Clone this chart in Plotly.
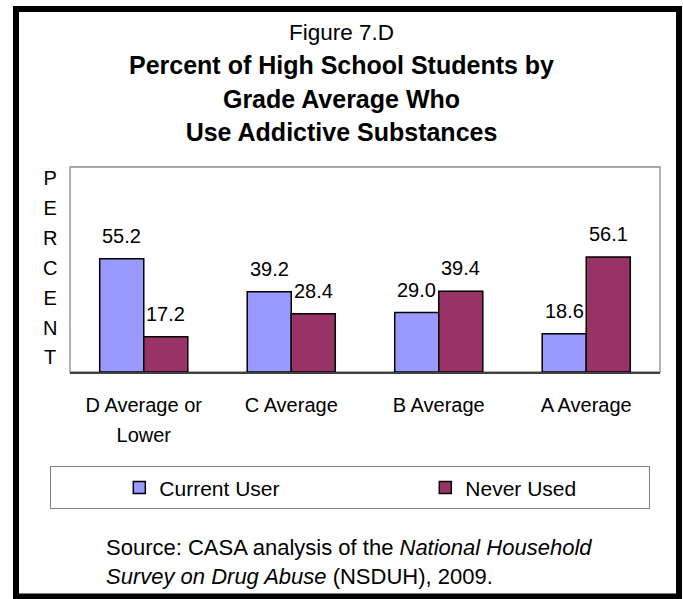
import plotly.graph_objects as go

# ---- data ----
categories = ["D Average or Lower", "C Average", "B Average", "A Average"]
tick_labels = ["D Average or<br>Lower", "C Average", "B Average", "A Average"]
current_user = [55.2, 39.2, 29.0, 18.6]
never_used = [17.2, 28.4, 39.4, 56.1]
series_names = ["Current User", "Never Used"]
boundary_ticks = [-0.5, 0.5, 1.5, 2.5, 3.5]

# ---- layout geometry (pixels) ----
W, H = 683, 599
L, R, T, B = 70, 660, 167, 372
PW, PH = R - L, B - T


def px(x):
    return (x - L) / PW


def py(y):
    return (B - y) / PH


FONT = "Liberation Sans, Arial, sans-serif"
BLUE = "#9999FF"
MAROON = "#993366"

fig = go.Figure()
fig.add_trace(go.Bar(
    x=categories, y=current_user, name=series_names[0],
    marker=dict(color=BLUE, line=dict(color="black", width=1.5)),
    legendwidth=193,
))
fig.add_trace(go.Bar(
    x=categories, y=never_used, name=series_names[1],
    marker=dict(color=MAROON, line=dict(color="black", width=1.5)),
    legendwidth=178,
))

annotations = []
for vals, shift in ((current_user, -22), (never_used, 22)):
    for c, v in zip(categories, vals):
        annotations.append(dict(
            x=c, y=v, xref="x", yref="y", xshift=shift, yshift=10,
            yanchor="bottom", xanchor="center", showarrow=False,
            text=f"{v:.1f}", font=dict(family=FONT, size=20, color="black"),
        ))

# stacked PERCENT label
annotations.append(dict(
    x=px(50), y=py(267.5), xref="paper", yref="paper",
    xanchor="center", yanchor="middle", showarrow=False,
    text="<br>".join(f"<span style='font-size:20px'>{ch}</span>" for ch in "PERCENT"),
    font=dict(family=FONT, size=23, color="black"),
))

# source note
annotations.append(dict(
    x=px(104), y=py(533), xref="paper", yref="paper",
    xanchor="left", yanchor="top", align="left", showarrow=False,
    text=("<span style='font-size:22px'>Source: CASA analysis of the <i>National Household</i></span><br>"
          "<span style='font-size:22px'><i>Survey on Drug Abuse</i> (NSDUH), 2009.</span>"),
    font=dict(family=FONT, size=22.5, color="black"),
))

shapes = [
    # plot frame
    dict(type="rect", xref="paper", yref="paper", x0=0, x1=1, y0=0, y1=1,
         line=dict(color="#8c8c8c", width=1.3), layer="below"),
    # outer border
    dict(type="rect", xref="paper", yref="paper",
         x0=px(16), x1=px(679), y0=py(596.5), y1=py(9),
         line=dict(color="black", width=6)),
]

title_text = ("<span style='font-size:22.5px'>Figure 7.D</span><br>"
              "<b><span style='font-size:25px'>Percent of High School Students by</span><br>"
              "<span style='font-size:25px'>Grade Average Who</span><br>"
              "<span style='font-size:25px'>Use Addictive Substances</span></b>")

fig.update_layout(
    width=W, height=H,
    margin=dict(l=L, r=W - R, t=T, b=H - B, pad=0),
    paper_bgcolor="white", plot_bgcolor="white",
    font=dict(family=FONT, color="black"),
    title=dict(text=title_text, x=0.5, xanchor="center", xref="container",
               y=1 - 40 / H, yanchor="top", yref="container",
               font=dict(family=FONT, size=26, color="black")),
    barmode="group", bargap=0.403, bargroupgap=0,
    xaxis=dict(
        type="category", tickvals=categories,
        ticktext=[f"<span style='font-size:20px'>{t}</span>" for t in tick_labels],
        tickfont=dict(family=FONT, size=23, color="black"),
        ticks="", showline=True, linecolor="#404040", linewidth=2,
        showgrid=False, zeroline=False, ticklabelstandoff=10,
    ),
    xaxis2=dict(
        overlaying="x", anchor="y", side="bottom", range=[-0.5, 3.5],
        tickvals=boundary_ticks, ticks="outside", ticklen=7, tickwidth=1.5,
        tickcolor="#404040", showticklabels=False, showgrid=False,
        zeroline=False, showline=False,
    ),
    yaxis=dict(range=[0, 100], visible=False, showgrid=False, zeroline=False),
    showlegend=True,
    legend=dict(
        orientation="h", x=px(50), xanchor="left", y=py(466), yanchor="top",
        xref="paper", yref="paper",
        bordercolor="#808080", borderwidth=1.3, bgcolor="white",
        font=dict(family=FONT, size=21, color="black"),
        indentation=68, itemwidth=30,
    ),
    annotations=annotations,
    shapes=shapes,
)

fig.write_html(
    "out.html",
    config={"displayModeBar": False},
    post_script="document.body.style.margin='0';document.body.style.padding='0';",
)
